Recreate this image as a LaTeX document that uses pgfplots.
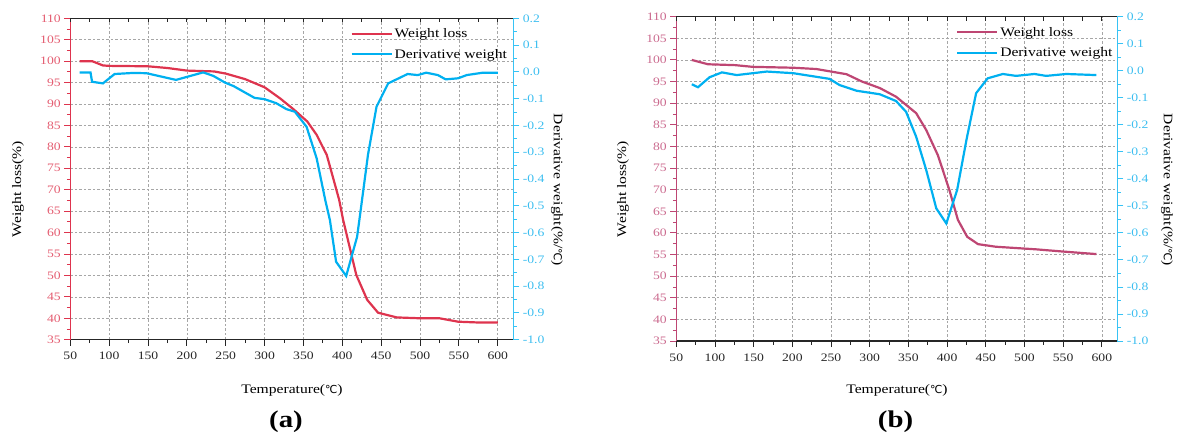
\documentclass[border=0pt]{standalone}
\usepackage{fontspec}
\setmainfont[FakeStretch=1.2]{Liberation Serif}
\newfontfamily\symf{DejaVu Sans}
\newcommand{\degC}{{\symf\fontsize{11}{12}\selectfont ℃}}
\usepackage{pgfplots}
\pgfplotsset{compat=1.18}
\definecolor{redA}{RGB}{222,52,78}
\definecolor{redB}{RGB}{190,70,115}
\definecolor{cyanL}{RGB}{0,176,240}
\definecolor{cyanAx}{RGB}{55,195,245}
\definecolor{cyanT}{RGB}{60,190,240}
\newcommand{\tickfont}{\fontsize{11.4}{12}\selectfont}
\pgfplotsset{
  panel/.style={scale only axis, xmin=50, xmax=620, /pgf/number format/assume math mode=true},
  leftax/.style={panel, axis x line*=bottom, axis y line*=left, ymin=35, ymax=110,
    xtick={50,100,...,600}, ytick={35,40,...,110}, minor x tick num=1, minor y tick num=1,
    tick align=outside, major tick length=6pt, minor tick length=3.5pt,
    grid=major, major grid style={draw=gray!70, dash pattern=on 2.5pt off 2pt, line width=0.6pt},
    x axis line style={-, draw=black!85, line width=1.3pt},
    y axis line style={-, draw=#1, line width=1.3pt},
    xtick style={draw=black!85, line width=0.9pt},
    ytick style={draw=#1, line width=0.9pt},
    yticklabel style={text=#1!80!white, font=\tickfont},
    xticklabel style={text=black!85, font=\tickfont, yshift=-3pt}},
  topax/.style={panel, axis x line*=top, axis y line=none, ymin=0, ymax=1,
    xtick={50,100,...,600}, minor x tick num=1, tick align=inside,
    major tick length=4pt, minor tick length=4pt, xticklabels={},
    x axis line style={-, draw=black!85, line width=1.3pt},
    xtick style={draw=black!85, line width=0.9pt}},
  rightax/.style={panel, axis x line=none, axis y line*=right, ymin=-1, ymax=0.2,
    ytick={-1.0,-0.9,-0.8,-0.7,-0.6,-0.5,-0.4,-0.3,-0.2,-0.1,0,0.1,0.2}, minor y tick num=1,
    tick align=outside, major tick length=6pt, minor tick length=3.5pt,
    y axis line style={-, draw=cyanAx, line width=1.3pt},
    ytick style={draw=cyanAx, line width=0.9pt},
    yticklabel style={text=cyanT, font=\tickfont, /pgf/number format/fixed, /pgf/number format/fixed zerofill, /pgf/number format/precision=1},
    legend cell align=left,
    legend image code/.code={\draw[##1, line width=2.2pt] (0pt,0pt) -- (40pt,0pt);},
    legend style={draw=none, fill=none, anchor=north west, font=\fontsize{13}{14}\selectfont, row sep=6pt, inner sep=0pt}},
}
\pgfplotstableread{
T W
62 100
78 100
92 99.0
100 98.9
150 98.8
175 98.4
200 97.8
235 97.6
250 97.1
275 95.8
300 93.9
320 91.3
337 88.8
355 85.9
367 82.8
380 78.1
396 67.6
401 63.0
418 50.1
432 44.3
446 41.3
470 40.2
500 40.0
525 40.0
549 39.2
577 39.0
600 39.0
}\WA
\pgfplotstableread{
T D
62 -0.002
76 -0.002
78 -0.037
92 -0.043
107 -0.008
131 -0.004
148 -0.005
186 -0.030
221 -0.002
234 -0.015
249 -0.040
260 -0.053
287 -0.097
300 -0.102
315 -0.117
328 -0.139
339 -0.149
354 -0.205
367 -0.323
378 -0.478
384 -0.553
392 -0.709
405 -0.762
419 -0.616
423 -0.530
433 -0.310
444 -0.130
459 -0.043
484 -0.008
497 -0.012
508 -0.003
523 -0.012
533 -0.028
549 -0.024
560 -0.012
581 -0.003
600 -0.003
}\DA
\pgfplotstableread{
T W
70 100.0
91 99.0
126 98.8
149 98.4
201 98.2
231 97.9
270 96.7
290 95.0
313 93.5
334 91.5
360 87.7
373 83.8
388 78.0
403 69.9
414 63.0
426 59.1
440 57.4
463 56.8
515 56.2
549 55.7
593 55.1
}\WB
\pgfplotstableread{
T D
70 -0.050
78 -0.061
93 -0.024
109 -0.006
128 -0.016
167 -0.003
201 -0.009
248 -0.030
261 -0.053
283 -0.074
313 -0.087
334 -0.112
347 -0.152
360 -0.244
373 -0.367
386 -0.509
399 -0.565
413 -0.441
425 -0.256
437.5 -0.083
452.5 -0.028
472 -0.012
489 -0.019
513 -0.012
528 -0.019
554 -0.012
593 -0.016
}\DB
\begin{document}
\begin{tikzpicture}[x=1pt,y=1pt]
\useasboundingbox (0,0) rectangle (1180,440);
% ---------- panel (a)
\begin{axis}[leftax=redA, at={(70.3pt,100.3pt)}, anchor=south west, width=443pt, height=321.4pt]
\addplot[redA, line width=2.2pt] table[x=T,y=W] {\WA};
\end{axis}
\begin{axis}[topax, at={(70.3pt,100.3pt)}, anchor=south west, width=443pt, height=321.4pt]
\end{axis}
\begin{axis}[rightax, at={(70.3pt,100.3pt)}, anchor=south west, width=443pt, height=321.4pt,
  legend style={at={(0.632,0.975)}}]
\addlegendimage{redA, line width=2.2pt}
\addlegendentry{Weight loss}
\addplot[cyanL, line width=2.2pt] table[x=T,y=D] {\DA};
\addlegendentry{Derivative weight}
\end{axis}
\node[rotate=90, font=\fontsize{13}{14}\selectfont] at (18,251) {Weight loss(\%)};
\node[rotate=-90, font=\fontsize{13}{14}\selectfont] at (557,250) {Derivative weight(\%/\degC)};
\node[font=\fontsize{13}{14}\selectfont] at (292,50) {Temperature(\degC)};
\node[font=\bfseries\fontsize{24}{26}\selectfont] at (286,18) {(a)};
% ---------- panel (b)
\begin{axis}[leftax=redB, at={(676.3pt,99pt)}, anchor=south west, width=441pt, height=324.3pt]
\addplot[redB, line width=2.2pt] table[x=T,y=W] {\WB};
\end{axis}
\begin{axis}[topax, at={(676.3pt,99pt)}, anchor=south west, width=441pt, height=324.3pt]
\end{axis}
\begin{axis}[rightax, at={(676.3pt,99pt)}, anchor=south west, width=441pt, height=324.3pt,
  legend style={at={(0.634,0.975)}}]
\addlegendimage{redB, line width=2.2pt}
\addlegendentry{Weight loss}
\addplot[cyanL, line width=2.2pt] table[x=T,y=D] {\DB};
\addlegendentry{Derivative weight}
\end{axis}
\node[rotate=90, font=\fontsize{13}{14}\selectfont] at (623,251) {Weight loss(\%)};
\node[rotate=-90, font=\fontsize{13}{14}\selectfont] at (1167,250) {Derivative weight(\%/\degC)};
\node[font=\fontsize{13}{14}\selectfont] at (897,49.5) {Temperature(\degC)};
\node[font=\bfseries\fontsize{24}{26}\selectfont] at (895.5,18) {(b)};
\end{tikzpicture}
\end{document}
